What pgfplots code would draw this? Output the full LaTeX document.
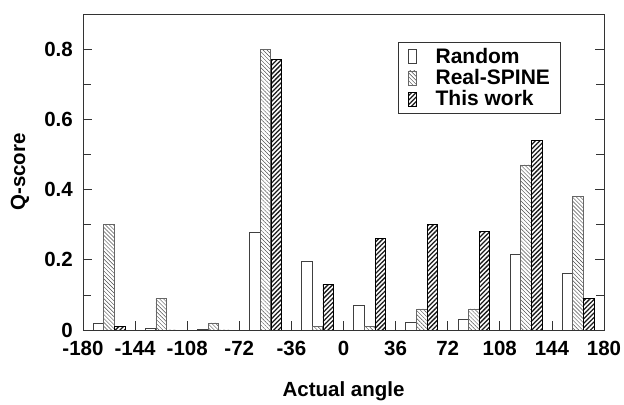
\documentclass[border=0pt]{standalone}
\usepackage{fontspec}
\setmainfont{Liberation Sans}
\usepackage{pgfplots}
\pgfplotsset{compat=1.18}
\usetikzlibrary{patterns.meta}
\definecolor{axgray}{HTML}{333333}
\begin{document}
\begin{tikzpicture}
\begin{axis}[
  name=ax,
  scale only axis,
  width=521pt, height=316pt,
  xmin=-180, xmax=180, ymin=0, ymax=0.9,
  ybar, bar width=10.5pt,
  axis line style={axgray, line width=0.9pt},
  xtick={-180,-144,...,180},
  ytick={0,0.2,0.4,0.6,0.8},
  minor ytick={0.1,0.3,0.5,0.7},
  tick align=inside,
  xtick pos=lower,
  ytick pos=both,
  major tick length=9pt, minor tick length=8pt,
  tick style={axgray, line width=0.7pt},
  /pgf/number format/assume math mode=true,
  ticklabel style={font=\fontsize{20.5}{20.5}\selectfont\bfseries, inner sep=0pt},
  xticklabel style={anchor=base, yshift=-26pt},
  yticklabel style={anchor=east, xshift=-10pt},
  xlabel={Actual angle}, ylabel={Q-score},
  every axis x label/.style={at={([yshift=-67pt]rel axis cs:0.5,0)}, anchor=base,
    font=\fontsize{20.5}{20.5}\selectfont\bfseries},
  every axis y label/.style={at={([xshift=-63pt]rel axis cs:0,0.5)}, anchor=center, rotate=90,
    font=\fontsize{20.5}{20.5}\selectfont\bfseries},
  legend style={at={(0.6046,0.9114)}, anchor=north west, draw=axgray, line width=0.7pt,
    font=\fontsize{21}{21}\selectfont\bfseries, inner xsep=10pt, inner ysep=6pt,
    nodes={inner sep=0pt}, row sep=4.5pt},
  legend cell align=left,
  legend image code/.code={\draw[#1, line width=0.5pt] (0pt,-7pt) rectangle (8pt,7pt);
    \path[draw=none, fill=none, pattern=none] (8pt,0pt) rectangle (27pt,0pt);},
]
\addplot[bar shift=-10.7pt, fill=white, draw=black!75, line width=0.6pt] coordinates {
(-162,0.02) (-126,0.005) (-90,0.003) (-54,0.277) (-18,0.197)
(18,0.07) (54,0.022) (90,0.03) (126,0.215) (162,0.162)};
\addplot[bar shift=0pt, draw=black!60, line width=0.6pt,
  pattern={Lines[angle=-45, distance=2.8pt, line width=0.45pt]}, pattern color=black!70] coordinates {
(-162,0.30) (-126,0.09) (-90,0.02) (-54,0.80) (-18,0.01)
(18,0.01) (54,0.06) (90,0.06) (126,0.47) (162,0.38)};
\addplot[bar shift=10.7pt, draw=black, line width=0.6pt,
  pattern={Lines[angle=45, distance=3.2pt, line width=1.3pt]}, pattern color=black!90] coordinates {
(-162,0.01) (-126,0) (-90,0) (-54,0.77) (-18,0.13)
(18,0.26) (54,0.30) (90,0.28) (126,0.54) (162,0.09)};
\legend{Random, Real-SPINE, This work}
\end{axis}
\path ([xshift=-83pt,yshift=-73pt]ax.south west) rectangle ([xshift=20pt,yshift=14pt]ax.north east);
\end{tikzpicture}
\end{document}
